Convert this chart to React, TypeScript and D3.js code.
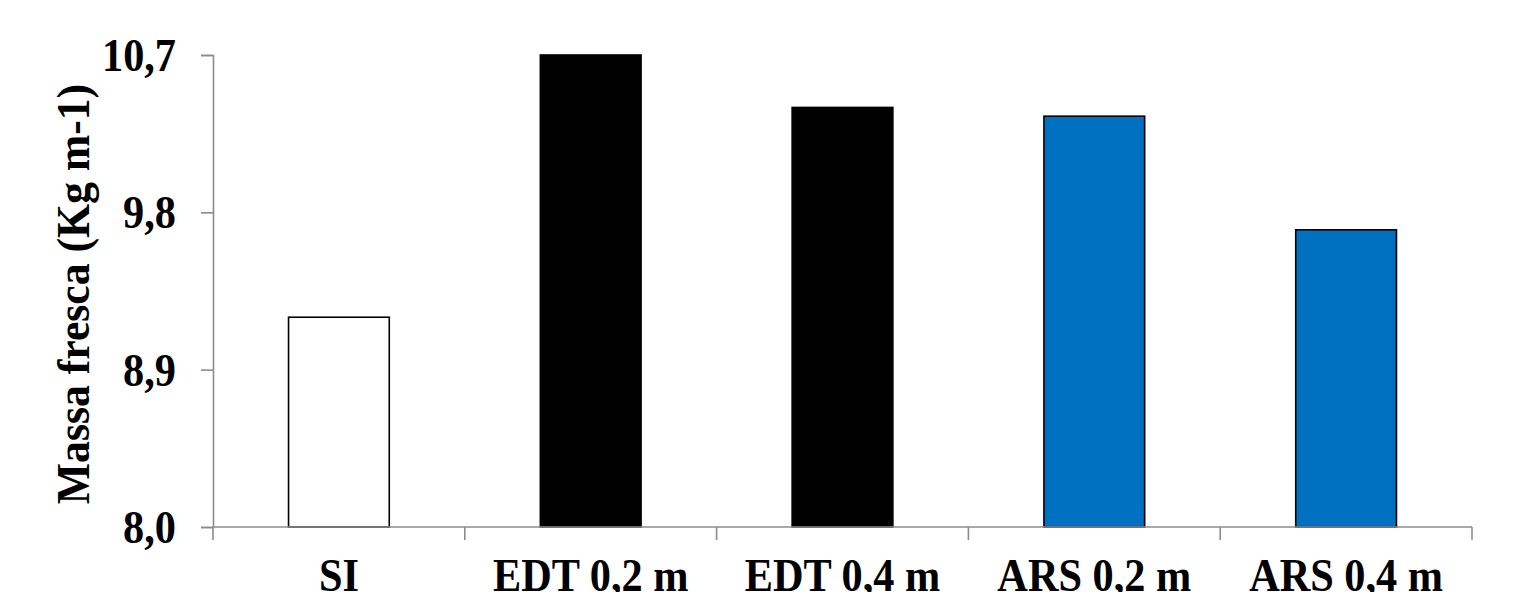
import React, { useEffect, useRef } from "react";
import * as d3 from "d3";

const categories = ["SI", "EDT 0,2 m", "EDT 0,4 m", "ARS 0,2 m", "ARS 0,4 m"];
const values = [9.2, 10.7, 10.4, 10.35, 9.7];
const fills = ["#ffffff", "#000000", "#000000", "#0070c0", "#0070c0"];
const yTicks = [8.0, 8.9, 9.8, 10.7];
const yTitle = "Massa fresca (Kg m-1)";

const W = 1516;
const H = 592;
const FONT = "'Liberation Serif', 'Times New Roman', serif";
const FS = 47;
const SX = 0.9; // narrow the serif glyphs horizontally

export default function App() {
  const ref = useRef<SVGSVGElement>(null);

  useEffect(() => {
    const svg = d3.select(ref.current);
    svg.selectAll("*").remove();

    const x0 = 213;
    const x1 = 1472;
    const yBottom = 527;
    const yTop = 55;

    const x = d3.scaleBand<string>().domain(categories).range([x0, x1]).paddingInner(0.6).paddingOuter(0.3);
    const y = d3.scaleLinear().domain([8.0, 10.7]).range([yBottom, yTop]);
    const axisColor = "#8c8c8c";

    // bars
    svg
      .append("g")
      .selectAll("rect")
      .data(values)
      .join("rect")
      .attr("x", (_, i) => x(categories[i])!)
      .attr("y", (d) => y(d))
      .attr("width", x.bandwidth())
      .attr("height", (d) => yBottom - y(d))
      .attr("fill", (_, i) => fills[i])
      .attr("stroke", "#000")
      .attr("stroke-width", 1.6);

    // y axis line and ticks
    const yAxis = d3.axisLeft(y).tickValues(yTicks).tickSize(12).tickFormat(() => "");
    const gy = svg.append("g").attr("transform", `translate(${x0},0)`).call(yAxis);
    gy.select(".domain").attr("stroke", axisColor).attr("stroke-width", 1.6);
    gy.selectAll(".tick line").attr("stroke", axisColor).attr("stroke-width", 1.6);

    // y tick labels
    svg
      .append("g")
      .selectAll("text")
      .data(yTicks)
      .join("text")
      .attr("transform", (d) => `translate(176,${y(d)}) scale(${SX},1)`)
      .attr("dy", "0.34em")
      .attr("text-anchor", "end")
      .attr("font-family", FONT)
      .attr("font-weight", "bold")
      .attr("font-size", FS)
      .attr("fill", "#000")
      .text((d) => d3.format(".1f")(d).replace(".", ","));

    // x axis: band boundaries as ticks
    const gx = svg.append("g");
    gx.append("line")
      .attr("x1", x0)
      .attr("x2", x1)
      .attr("y1", yBottom)
      .attr("y2", yBottom)
      .attr("stroke", axisColor)
      .attr("stroke-width", 1.6);
    const boundaries = d3.range(categories.length + 1).map((i) => x0 + i * x.step());
    gx.selectAll("line.tk")
      .data(boundaries)
      .join("line")
      .attr("class", "tk")
      .attr("x1", (d) => d - x.step() * 0.3 + x.step() * 0.3)
      .attr("x2", (d) => d)
      .attr("y1", yBottom)
      .attr("y2", yBottom + 13)
      .attr("stroke", axisColor)
      .attr("stroke-width", 1.6);
    gx.selectAll("text")
      .data(categories)
      .join("text")
      .attr("transform", (d) => `translate(${x(d)! + x.bandwidth() / 2},591) scale(${SX},1)`)
      .attr("text-anchor", "middle")
      .attr("font-family", FONT)
      .attr("font-weight", "bold")
      .attr("font-size", FS)
      .attr("fill", "#000")
      .text((d) => d);

    // y title
    svg
      .append("text")
      .attr("transform", `translate(89,${(yTop + yBottom) / 2 + 3}) rotate(-90) scale(0.93,1)`)
      .attr("text-anchor", "middle")
      .attr("font-family", FONT)
      .attr("font-weight", "bold")
      .attr("font-size", FS)
      .attr("fill", "#000")
      .text(yTitle);
  }, []);

  return (
    <svg
      ref={ref}
      width={W}
      height={H}
      style={{ position: "absolute", left: 0, top: 0, background: "#fff" }}
    />
  );
}
